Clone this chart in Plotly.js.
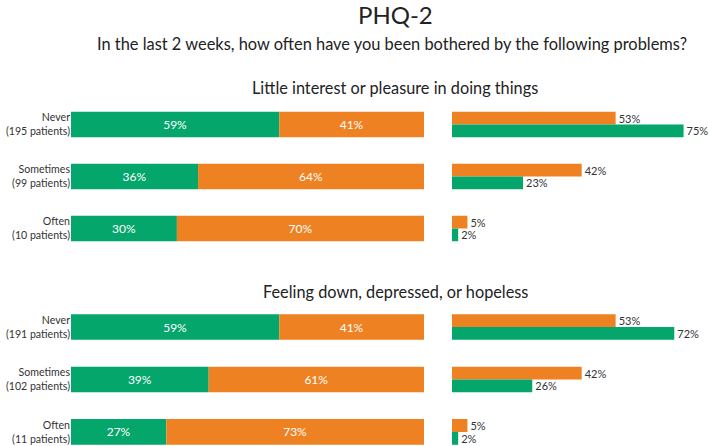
<!DOCTYPE html>
<html>
<head>
<meta charset="utf-8">
<script src="https://cdn.plot.ly/plotly-3.0.1.min.js"></script>
<style>html,body{margin:0;padding:0;background:#fff;}#chart{width:709px;height:446px;}</style>
</head>
<body>
<div id="chart"></div>
<script>
// ---- data ----
const categories1 = ["Never<br>(195 patients)", "Sometimes<br>(99 patients)", "Often<br>(10 patients)"];
const categories2 = ["Never<br>(191 patients)", "Sometimes<br>(102 patients)", "Often<br>(11 patients)"];
const greenShare1 = [59, 36, 30];
const orangeShare1 = [41, 64, 70];
const orangeRight1 = [53, 42, 5];
const greenRight1 = [75, 23, 2];
const greenShare2 = [59, 39, 27];
const orangeShare2 = [41, 61, 73];
const orangeRight2 = [53, 42, 5];
const greenRight2 = [72, 26, 2];
const titleText = "PHQ-2";
const subtitleText = "In the last 2 weeks, how often have you been bothered by the following problems?";
const panelTitle1 = "Little interest or pleasure in doing things";
const panelTitle2 = "Feeling down, depressed, or hopeless";

// ---- style ----
const GREEN = "#04A66B";
const ORANGE = "#EE8222";
const FONT = "Lato, 'Open Sans', sans-serif";
const pct = a => a.map(v => v + "%");
const W = 0.49;

function stacked(cats, g, o, xa, ya) {
  return [
    {type: "bar", orientation: "h", y: cats, x: g, base: 0, width: W, offset: -W/2,
     marker: {color: GREEN}, text: pct(g), textposition: "inside", insidetextanchor: "middle",
     textfont: {color: "#fff", size: 12, family: FONT}, constraintext: "none",
     xaxis: xa, yaxis: ya, hoverinfo: "skip"},
    {type: "bar", orientation: "h", y: cats, x: o, base: g, width: W, offset: -W/2,
     marker: {color: ORANGE}, text: pct(o), textposition: "inside", insidetextanchor: "middle",
     textfont: {color: "#fff", size: 12, family: FONT}, constraintext: "none",
     xaxis: xa, yaxis: ya, hoverinfo: "skip"}
  ];
}
function grouped(cats, o, g, xa, ya) {
  return [
    {type: "bar", orientation: "h", y: cats, x: o, width: W/2, offset: -W/2,
     marker: {color: ORANGE}, text: pct(o), textposition: "outside", cliponaxis: false,
     textfont: {color: "#333", size: 11, family: FONT}, constraintext: "none",
     xaxis: xa, yaxis: ya, hoverinfo: "skip"},
    {type: "bar", orientation: "h", y: cats, x: g, width: W/2, offset: 0,
     marker: {color: GREEN}, text: pct(g), textposition: "outside", cliponaxis: false,
     textfont: {color: "#333", size: 11, family: FONT}, constraintext: "none",
     xaxis: xa, yaxis: ya, hoverinfo: "skip"}
  ];
}

const data = [
  ...stacked(categories1, greenShare1, orangeShare1, "x", "y"),
  ...grouped(categories1, orangeRight1, greenRight1, "x2", "y"),
  ...stacked(categories2, greenShare2, orangeShare2, "x3", "y2"),
  ...grouped(categories2, orangeRight2, greenRight2, "x4", "y2")
];

const H = 446;
const leftDom = [71/709, 424/709];
const rightDom = [452/709, 699/709];
const hidden = {visible: false, fixedrange: true};
const yCommon = {type: "category", showgrid: false, zeroline: false, showline: false, ticks: "",
  ticklabelstandoff: 0,
  tickfont: {size: 10.6, color: "#333", family: FONT}, fixedrange: true};

const layout = {
  width: 709, height: 446,
  margin: {l: 0, r: 0, t: 0, b: 0},
  paper_bgcolor: "#fff", plot_bgcolor: "#fff",
  showlegend: false, barmode: "overlay",
  font: {family: FONT, color: "#222"},
  xaxis: Object.assign({domain: leftDom, range: [0, 100], anchor: "y"}, hidden),
  xaxis2: Object.assign({domain: rightDom, range: [0, 80], anchor: "y"}, hidden),
  xaxis3: Object.assign({domain: leftDom, range: [0, 100], anchor: "y2"}, hidden),
  xaxis4: Object.assign({domain: rightDom, range: [0, 80], anchor: "y2"}, hidden),
  yaxis: Object.assign({}, yCommon, {anchor: "x", domain: [1 - 254.5/H, 1 - 98.5/H], range: [2.5, -0.5]}),
  yaxis2: Object.assign({}, yCommon, {anchor: "x3", domain: [0, 1 - 300.75/H], range: [2.267, -0.5]}),
  annotations: [
    {text: titleText, xref: "paper", yref: "paper", x: 395/709, y: 1 - 15/H, xanchor: "center", yanchor: "middle",
     showarrow: false, font: {size: 24, color: "#222", family: FONT}},
    {text: subtitleText, xref: "paper", yref: "paper", x: 392/709, y: 1 - 44/H, xanchor: "center", yanchor: "middle",
     showarrow: false, font: {size: 16.4, color: "#222", family: FONT}},
    {text: panelTitle1, xref: "paper", yref: "paper", x: 395/709, y: 1 - 87/H, xanchor: "center", yanchor: "middle",
     showarrow: false, font: {size: 16.3, color: "#222", family: FONT}},
    {text: panelTitle2, xref: "paper", yref: "paper", x: 395/709, y: 1 - 291/H, xanchor: "center", yanchor: "middle",
     showarrow: false, font: {size: 16.3, color: "#222", family: FONT}}
  ]
};

Plotly.newPlot("chart", data, layout, {displayModeBar: false, staticPlot: true});
</script>
</body>
</html>
